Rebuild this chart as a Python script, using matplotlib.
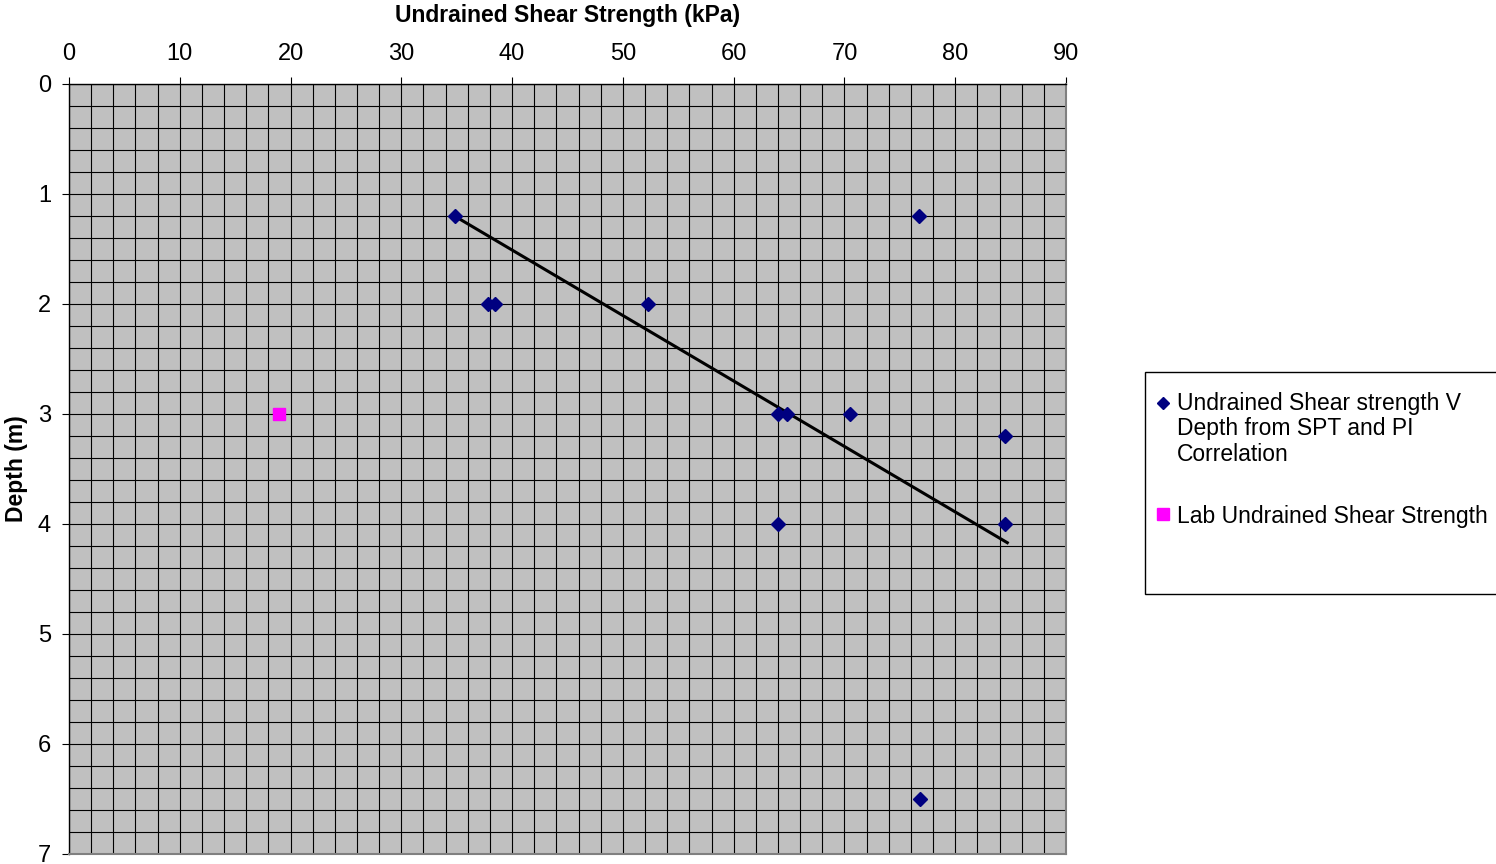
import matplotlib.pyplot as plt
from matplotlib.lines import Line2D
from matplotlib.patches import Rectangle
from matplotlib.ticker import MultipleLocator

plt.rcParams["font.family"] = ["Liberation Sans", "DejaVu Sans"]

# SPT / PI correlation points
spt_strength = [34.8, 37.8, 38.5, 52.3, 76.7, 64.0, 64.8, 70.5, 84.5, 64.0, 84.5, 76.8]
spt_depth = [1.2, 2.0, 2.0, 2.0, 1.2, 3.0, 3.0, 3.0, 3.2, 4.0, 4.0, 6.5]

# lab test
lab_strength = [19.0]
lab_depth = [3.0]

# linear trend line end points
trend_strength = [34.8, 84.7]
trend_depth = [1.2, 4.17]

label_spt = "Undrained Shear strength V\nDepth from SPT and PI\nCorrelation"
label_lab = "Lab Undrained Shear Strength"


def main() -> None:
    W, H = 1496, 864
    fig = plt.figure(figsize=(W / 100, H / 100), dpi=100)
    ax = fig.add_axes([69 / W, 10 / H, 997 / W, 770 / H])
    ax.set_facecolor("#c0c0c0")

    ax.plot(trend_strength, trend_depth, color="black", linewidth=2.2, zorder=3)
    ax.plot(spt_strength, spt_depth, linestyle="none", marker="D", markersize=6.8,
            color="#000080", zorder=4)
    ax.plot(lab_strength, lab_depth, linestyle="none", marker="s", markersize=9.2,
            color="#ff00ff", zorder=4)

    ax.set_xlim(0, 90)
    ax.set_ylim(7, 0)
    ax.xaxis.set_major_locator(MultipleLocator(10))
    ax.xaxis.set_minor_locator(MultipleLocator(2))
    ax.yaxis.set_major_locator(MultipleLocator(1))
    ax.yaxis.set_minor_locator(MultipleLocator(0.2))
    ax.grid(True, which="both", color="black", linewidth=0.8)
    ax.set_axisbelow(True)

    ax.xaxis.tick_top()
    ax.xaxis.set_label_position("top")
    ax.tick_params(axis="x", which="major", direction="out", length=5, width=0.8,
                   pad=8.5, labelsize=17)
    ax.tick_params(axis="y", which="major", direction="out", length=5, width=0.8,
                   pad=8, labelsize=17)
    ax.tick_params(which="minor", length=0)

    ax.set_xlabel("Undrained Shear Strength (kPa)", fontsize=16.5, fontweight="bold",
                  labelpad=15.5)
    ax.set_ylabel("Depth (m)", fontsize=16.5, fontweight="bold", labelpad=7)

    for side in ("top", "left"):
        ax.spines[side].set_color("black")
        ax.spines[side].set_linewidth(1.0)
    for side in ("right", "bottom"):
        ax.spines[side].set_color("#808080")
        ax.spines[side].set_linewidth(1.5)

    # legend drawn by hand to match the spreadsheet layout
    fig.patches.append(Rectangle((1145 / W, 1 - 594 / H), 400 / W, 222 / H,
                                 transform=fig.transFigure, facecolor="white",
                                 edgecolor="black", linewidth=1.0, zorder=1))
    fig.add_artist(Line2D([1163 / W], [1 - 403 / H], transform=fig.transFigure,
                          linestyle="none", marker="D", markersize=6.5, color="#000080"))
    fig.add_artist(Line2D([1163 / W], [1 - 514 / H], transform=fig.transFigure,
                          linestyle="none", marker="s", markersize=9, color="#ff00ff"))
    fig.text(1177 / W, 1 - 392 / H, label_spt, fontsize=16.5, va="top", ha="left",
             linespacing=1.13)
    fig.text(1177 / W, 1 - 514 / H, label_lab, fontsize=16.5, va="center_baseline",
             ha="left")

    fig.savefig("out.png", dpi=100)


if __name__ == "__main__":
    main()
